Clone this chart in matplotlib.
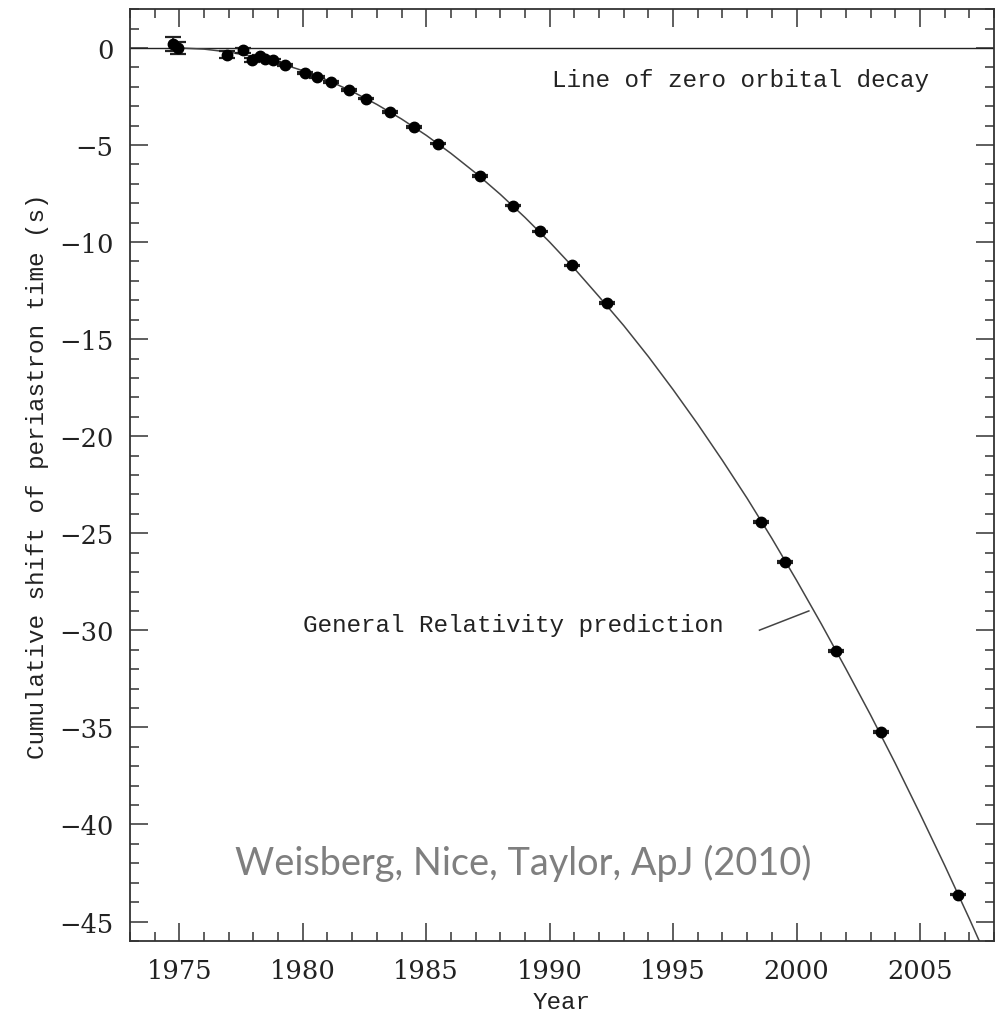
import numpy as np
import matplotlib.pyplot as plt
from matplotlib.ticker import MultipleLocator

# measured periastron shifts (year, seconds)
years = [1974.75, 1974.95, 1976.92, 1977.59, 1977.95, 1978.27, 1978.45, 1978.8,
         1979.28, 1980.08, 1980.59, 1981.15, 1981.88, 1982.55, 1983.53, 1984.5,
         1985.49, 1987.17, 1988.52, 1989.59, 1990.9, 1992.33, 1998.58, 1999.55,
         2001.6, 2003.43, 2006.54]
shift = [0.2, 0.0, -0.34, -0.12, -0.6, -0.43, -0.57, -0.64,
         -0.88, -1.29, -1.48, -1.74, -2.18, -2.61, -3.29, -4.07,
         -4.93, -6.61, -8.12, -9.45, -11.2, -13.15, -24.42, -26.47,
         -31.05, -35.24, -43.61]
shift_err = [0.35, 0.3, 0.18, 0.12, 0.1, 0.08, 0.08, 0.06,
             0.06, 0.05, 0.05, 0.05, 0.05, 0.04, 0.04, 0.04,
             0.04, 0.04, 0.04, 0.04, 0.04, 0.04, 0.04, 0.04,
             0.04, 0.04, 0.04]

# general relativity prediction curve
gr_years = [1974.8, 1975, 1976, 1977, 1978, 1979, 1980, 1981, 1982, 1983, 1984,
            1985, 1986, 1987, 1988, 1989, 1990, 1991, 1992, 1993, 1994, 1995,
            1996, 1997, 1998, 1999, 2000, 2001, 2002, 2003, 2004, 2005, 2006,
            2007, 2008]
gr_shift = [0.0, 0.0, -0.06, -0.21, -0.44, -0.76, -1.17, -1.66, -2.24, -2.91, -3.66,
            -4.50, -5.43, -6.44, -7.54, -8.73, -10.00, -11.36, -12.81, -14.30, -15.90,
            -17.60, -19.38, -21.25, -23.20, -25.26, -27.42, -29.66, -31.98, -34.36,
            -36.85, -39.44, -42.10, -44.85, -47.70]

mono = 'Liberation Mono'
serif = 'DejaVu Serif'
fs = 17.5

fig = plt.figure(figsize=(10, 10.12), dpi=100)
ax = fig.add_axes([0.13, 0.0692, 0.864, 0.9208])

ax.axhline(0, color='#222222', lw=1.0)
ax.plot(gr_years, gr_shift, color='#444444', lw=1.1)
ax.errorbar(years, shift, yerr=shift_err, fmt='o', color='black', ms=7.5,
            ecolor='#222222', elinewidth=1.2, capsize=6, capthick=1.6)

# pointer to the prediction curve
ax.plot([1998.5, 2000.5], [-29.99, -29.0], color='#444444', lw=1.1)

ax.text(1990.08, -1.63, 'Line of zero orbital decay', family=mono, fontsize=fs,
        va='center', ha='left', color='#222222')
ax.text(1980.0, -29.7, 'General Relativity prediction', family=mono, fontsize=fs,
        va='center', ha='left', color='#222222')
ax.text(1977.25, -41.95, 'Weisberg, Nice, Taylor, ApJ (2010)', family='Lato',
        fontsize=27.3, va='center', ha='left', color='#7f7f7f')

ax.set_xlim(1973, 2008)
ax.set_ylim(-46, 2)
ax.xaxis.set_major_locator(MultipleLocator(5))
ax.xaxis.set_minor_locator(MultipleLocator(1))
ax.yaxis.set_major_locator(MultipleLocator(5))
ax.yaxis.set_minor_locator(MultipleLocator(1))
ax.tick_params(which='both', direction='in', top=True, right=True,
               color='#333333', width=1.1)
ax.tick_params(which='major', length=13, pad=12, labelsize=18.5)
ax.tick_params(which='minor', length=6.5)
for lab in ax.get_xticklabels() + ax.get_yticklabels():
    lab.set_family(serif)
    lab.set_color('#222222')
for sp in ax.spines.values():
    sp.set_linewidth(1.3)
    sp.set_color('#333333')

ax.set_xlabel('Year', family=mono, fontsize=fs, labelpad=5, color='#222222')
ax.set_ylabel('Cumulative shift of periastron time (s)', family=mono,
              fontsize=fs, labelpad=7, color='#222222')

fig.savefig('out.png', dpi=100)
